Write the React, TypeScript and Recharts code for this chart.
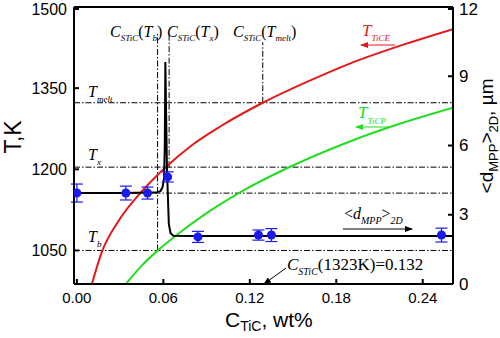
import React from 'react'
import { ComposedChart, ErrorBar, Line, ReferenceLine, Scatter, XAxis, YAxis } from 'recharts'

const xTicks = [0, 0.06, 0.12, 0.18, 0.24]
const tTicks = [1050, 1200, 1350, 1500]
const dTicks = [0, 3, 6, 9, 12]

// T_TiCE (red), left axis
const ticeC = [0.0104, 0.0174, 0.029, 0.045, 0.0605, 0.08, 0.1, 0.129, 0.16, 0.189, 0.225, 0.261]
const ticeT = [988, 1048, 1105, 1159, 1201, 1245, 1280, 1323, 1362, 1395, 1429, 1459]

// T_TiCP (green), left axis
const ticpC = [0.034, 0.045, 0.057, 0.0675, 0.09, 0.113, 0.145, 0.189, 0.225, 0.261]
const ticpT = [988, 1022, 1052, 1075, 1119, 1157, 1201, 1251, 1285, 1314]

// <d_MPP>_2D fit (black), right axis
const dLineC = [0, 0.03, 0.055, 0.058, 0.0595, 0.0605, 0.061, 0.0614, 0.0625, 0.0638, 0.065, 0.067, 0.08, 0.261]
const dLineD = [3.94, 3.94, 3.96, 4.02, 4.2, 4.6, 6.0, 9.62, 5.0, 2.6, 2.2, 2.09, 2.08, 2.08]

// measured points (blue), right axis
const dPtsC = [0, 0.034, 0.049, 0.063, 0.084, 0.126, 0.135, 0.253]
const dPtsD = [3.94, 3.94, 3.94, 4.64, 2.04, 2.12, 2.12, 2.12]
const dPtsErr = [0.39, 0.3, 0.26, 0.22, 0.24, 0.22, 0.28, 0.3]

// dash-dot guide levels
const tLevels = [1323, 1204, 1156, 1050]
const vGuideC = [0.056, 0.064, 0.129]
const vGuideFrom = [1050, 1204, 1323]
const vGuideTo = [1452, 1452, 1435]

const ticeData = ticeC.map((c, i) => ({ c, t: ticeT[i] }))
const ticpData = ticpC.map((c, i) => ({ c, t: ticpT[i] }))
const dLineData = dLineC.map((c, i) => ({ c, d: dLineD[i] }))
const dPtsData = dPtsC.map((c, i) => ({ c, d: dPtsD[i], err: dPtsErr[i] }))

const SANS = 'Liberation Sans, Arial, sans-serif'
const SERIF = 'Liberation Serif, Times New Roman, serif'
const RED = '#e3191c'
const GREEN = '#22dd22'
const BLUE = '#1a1aee'
const DASHDOT = '6 2 1.5 2'

const LeftTick = (props: any) => {
  const { x, y, payload } = props
  return (
    <g>
      <line x1={x} x2={x + 5} y1={y} y2={y} stroke="#000" strokeWidth={2} />
      <text x={x - 7} y={y} textAnchor="end" dominantBaseline="central" fontSize={16} fontFamily={SANS} fill="#000">
        {payload.value}
      </text>
    </g>
  )
}

const RightTick = (props: any) => {
  const { x, y, payload } = props
  return (
    <g>
      <line x1={x} x2={x - 5} y1={y} y2={y} stroke="#000" strokeWidth={2} />
      <text x={x + 6} y={y} textAnchor="start" dominantBaseline="central" fontSize={17} fontFamily={SANS} fill="#000">
        {payload.value}
      </text>
    </g>
  )
}

const BottomTick = (props: any) => {
  const { x, y, payload } = props
  return (
    <g>
      <line x1={x} x2={x} y1={y} y2={y - 5} stroke="#000" strokeWidth={2} />
      <text x={x} y={y + 19} textAnchor="middle" fontSize={15} fontFamily={SANS} fill="#000">
        {Number(payload.value).toFixed(2)}
      </text>
    </g>
  )
}

// parts: [text, kind] where kind 'i' italic, 'u' upright, 's' subscript
type Part = [string, 'i' | 'u' | 's']
function Rich({ x, y, parts, size, sub, shift, color = '#000', family = SERIF, transform, anchor }: {
  x: number; y: number; parts: Part[]; size: number; sub: number; shift: number
  color?: string; family?: string; transform?: string; anchor?: string
}) {
  let down = false
  return (
    <text x={x} y={y} fontSize={size} fontFamily={family} fill={color} transform={transform} textAnchor={anchor}>
      {parts.map(([s, k], i) => {
        let dy = 0
        if (k === 's' && !down) { dy = shift; down = true }
        else if (k !== 's' && down) { dy = -shift; down = false }
        return (
          <tspan key={i} dy={dy} fontSize={k === 's' ? sub : size}
            fontStyle={family === SERIF && k !== 'u' ? 'italic' : 'normal'}>
            {s}
          </tspan>
        )
      })}
    </text>
  )
}

export default function App() {
  return (
    <div style={{ position: 'absolute', left: 0, top: 0, width: 500, height: 338, background: '#fff' }}>
      <ComposedChart width={500} height={338} margin={{ top: 7, right: 10, left: 10, bottom: 24 }}>
        <XAxis
          dataKey="c"
          type="number"
          domain={[-0.002, 0.261]}
          ticks={xTicks}
          allowDataOverflow
          height={30}
          tickSize={0}
          tickMargin={0}
          tickLine={false}
          axisLine={{ stroke: '#000', strokeWidth: 2 }}
          tick={BottomTick}
        />
        <YAxis
          yAxisId="left"
          type="number"
          domain={[988, 1500]}
          ticks={tTicks}
          allowDataOverflow
          width={64}
          tickSize={0}
          tickMargin={0}
          tickLine={false}
          axisLine={{ stroke: '#000', strokeWidth: 2 }}
          tick={LeftTick}
        />
        <YAxis
          yAxisId="right"
          orientation="right"
          type="number"
          domain={[0, 12]}
          ticks={dTicks}
          allowDataOverflow
          width={37}
          tickSize={0}
          tickMargin={0}
          tickLine={false}
          axisLine={{ stroke: '#000', strokeWidth: 2 }}
          tick={RightTick}
        />
        <ReferenceLine yAxisId="left" y={1500} stroke="#000" strokeWidth={2} />
        {tLevels.map((t) => (
          <ReferenceLine key={t} yAxisId="left" y={t} stroke="#000" strokeWidth={1} strokeDasharray={DASHDOT} />
        ))}
        {vGuideC.map((c, i) => (
          <ReferenceLine
            key={c}
            yAxisId="left"
            segment={[{ x: c, y: vGuideFrom[i] }, { x: c, y: vGuideTo[i] }]}
            stroke="#000"
            strokeWidth={1}
            strokeDasharray={DASHDOT}
          />
        ))}
        <Line data={ticeData} dataKey="t" yAxisId="left" type="monotone" stroke={RED} strokeWidth={2} dot={false} isAnimationActive={false} />
        <Line data={ticpData} dataKey="t" yAxisId="left" type="monotone" stroke={GREEN} strokeWidth={2} dot={false} isAnimationActive={false} />
        <Line data={dLineData} dataKey="d" yAxisId="right" type="linear" stroke="#000" strokeWidth={2} dot={false} isAnimationActive={false} />
        <Scatter data={dPtsData} dataKey="d" yAxisId="right" fill={BLUE} isAnimationActive={false}>
          <ErrorBar dataKey="err" direction="y" width={6} stroke={BLUE} strokeWidth={1.2} />
        </Scatter>
      </ComposedChart>

      <svg width={500} height={338} style={{ position: 'absolute', left: 0, top: 0, pointerEvents: 'none' }}>
        <defs>
          <marker id="ahr" markerWidth="8" markerHeight="6" refX="7" refY="3" orient="auto" markerUnits="userSpaceOnUse">
            <path d="M0,0 L8,3 L0,6 Z" fill={RED} />
          </marker>
          <marker id="ahg" markerWidth="8" markerHeight="6" refX="7" refY="3" orient="auto" markerUnits="userSpaceOnUse">
            <path d="M0,0 L8,3 L0,6 Z" fill={GREEN} />
          </marker>
          <marker id="ahk" markerWidth="8" markerHeight="6" refX="7" refY="3" orient="auto" markerUnits="userSpaceOnUse">
            <path d="M0,0 L8,3 L0,6 Z" fill="#000" />
          </marker>
        </defs>

        {/* axis titles */}
        <text transform="rotate(-90)" x={-137} y={21} textAnchor="middle" fontSize={23} fontFamily={SANS}>T,K</text>
        <Rich x={-136} y={493} transform="rotate(-90)" anchor="middle" family={SANS} size={19} sub={13} shift={5}
          parts={[['<d', 'u'], ['MPP', 's'], ['>', 'u'], ['2D', 's'], [', \u00b5m', 'u']]} />
        <Rich x={225} y={327} family={SANS} size={21} sub={14} shift={4}
          parts={[['C', 'u'], ['TiC', 's'], [', wt%', 'u']]} />

        {/* guide labels */}
        <Rich x={110} y={37} size={16} sub={9} shift={4}
          parts={[['C', 'i'], ['STiC', 's'], ['(', 'u'], ['T', 'i'], ['b', 's'], [')', 'u']]} />
        <Rich x={167} y={37} size={16} sub={9} shift={4}
          parts={[['C', 'i'], ['STiC', 's'], ['(', 'u'], ['T', 'i'], ['x', 's'], [')', 'u']]} />
        <Rich x={233} y={37} size={16} sub={9} shift={4}
          parts={[['C', 'i'], ['STiC', 's'], ['(', 'u'], ['T', 'i'], ['melt', 's'], [')', 'u']]} />
        <Rich x={88} y={97} size={16} sub={9} shift={5} parts={[['T', 'i'], ['melt', 's']]} />
        <Rich x={88} y={160} size={16} sub={9} shift={5} parts={[['T', 'i'], ['x', 's']]} />
        <Rich x={88} y={242} size={16} sub={9} shift={5} parts={[['T', 'i'], ['b', 's']]} />

        {/* curve labels */}
        <Rich x={362} y={36} size={17} sub={9} shift={5} color={RED} parts={[['T', 'i'], ['TiCE', 's']]} />
        <line x1={395} y1={45} x2={361} y2={45} stroke={RED} strokeWidth={1} markerEnd="url(#ahr)" />
        <Rich x={358} y={118} size={17} sub={9} shift={6} color={GREEN} parts={[['T', 'i'], ['TiCP', 's']]} />
        <line x1={389} y1={127} x2={356} y2={127} stroke={GREEN} strokeWidth={1} markerEnd="url(#ahg)" />
        <Rich x={344} y={219} size={16} sub={10} shift={5}
          parts={[['<', 'u'], ['d', 'i'], ['MPP', 's'], ['>', 'u'], ['2D', 's']]} />
        <line x1={343} y1={229} x2={412} y2={229} stroke="#000" strokeWidth={1} markerEnd="url(#ahk)" />
        <Rich x={287} y={270} size={17} sub={10} shift={5}
          parts={[['C', 'i'], ['STiC', 's'], ['(1323K)=0.132', 'u']]} />
        <line x1={286} y1={268} x2={264} y2={284} stroke="#000" strokeWidth={1} markerEnd="url(#ahk)" />
      </svg>
    </div>
  )
}
